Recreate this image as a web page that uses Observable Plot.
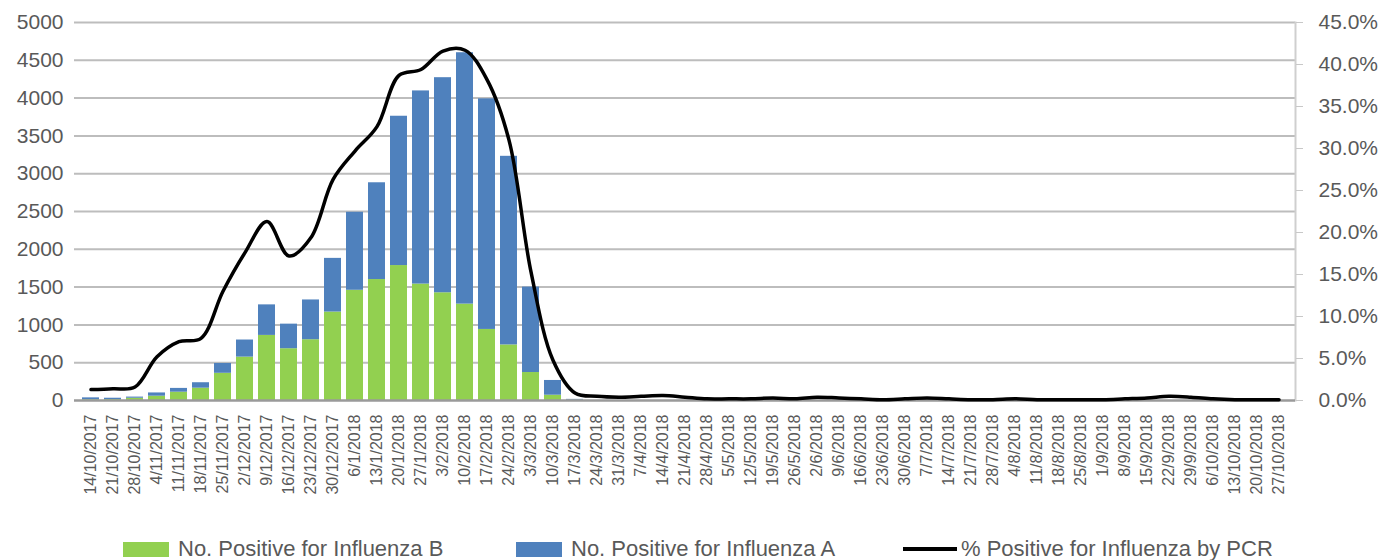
<!DOCTYPE html>
<html><head><meta charset="utf-8">
<script src="https://cdn.jsdelivr.net/npm/d3@7"></script>
<script src="https://cdn.jsdelivr.net/npm/@observablehq/plot@0.6"></script>
<style>
body{margin:0;background:#fff;font-family:"Liberation Sans",Arial,sans-serif;}
#wrap{position:relative;width:1385px;height:560px;overflow:hidden;}
#legend{position:absolute;left:0;top:538px;width:1385px;height:22px;font-size:22px;color:#595959;}
.item{position:absolute;top:0;display:flex;align-items:center;height:22px;white-space:nowrap;}
.sw{width:46px;height:15px;margin-right:9px;}
.ln{width:54px;height:4px;background:#000;margin-right:4px;}
</style></head><body>
<div id="wrap"><div id="chart"></div><div id="legend"></div></div>
<script>
const weeks = ["14/10/2017","21/10/2017","28/10/2017","4/11/2017","11/11/2017","18/11/2017","25/11/2017","2/12/2017","9/12/2017","16/12/2017","23/12/2017","30/12/2017",
"6/1/2018","13/1/2018","20/1/2018","27/1/2018","3/2/2018","10/2/2018","17/2/2018","24/2/2018","3/3/2018","10/3/2018","17/3/2018","24/3/2018","31/3/2018",
"7/4/2018","14/4/2018","21/4/2018","28/4/2018","5/5/2018","12/5/2018","19/5/2018","26/5/2018","2/6/2018","9/6/2018","16/6/2018","23/6/2018","30/6/2018",
"7/7/2018","14/7/2018","21/7/2018","28/7/2018","4/8/2018","11/8/2018","18/8/2018","25/8/2018","1/9/2018","8/9/2018","15/9/2018","22/9/2018","29/9/2018",
"6/10/2018","13/10/2018","20/10/2018","27/10/2018"];
const fluB = [10,12,30,57,110,163,360,574,861,685,804,1170,1458,1600,1785,1540,1425,1275,940,735,370,70,5,
0,0,0,0,0,0,0,0,0,0,0,0,0,0,0,0,0,0,0,0,0,0,0,0,0,0,0,0,0,0,0,0];
const fluA = [25,18,15,43,50,72,130,226,404,325,526,710,1032,1280,1975,2555,2845,3325,3050,2495,1130,195,10,
0,0,0,0,0,0,0,0,0,0,0,0,0,0,0,0,0,0,0,0,0,0,0,0,0,0,0,0,0,0,0,0];
const pctPositive = [1.3,1.4,1.6,5.2,7.0,7.4,13.0,17.6,21.3,17.2,19.4,26.3,29.7,32.6,38.7,39.4,41.6,41.7,38.2,31.0,15.3,4.8,0.9,
0.5,0.4,0.5,0.6,0.4,0.2,0.2,0.2,0.3,0.2,0.4,0.3,0.2,0.1,0.2,0.3,0.2,0.1,0.1,0.2,0.1,0.1,0.1,0.1,0.2,0.3,0.5,0.4,0.2,0.1,0.1,0.1];
const leftTicks = [0,500,1000,1500,2000,2500,3000,3500,4000,4500,5000];
const rightTicks = [0,5,10,15,20,25,30,35,40,45];
const seriesNames = ["No. Positive for Influenza B","No. Positive for Influenza A","% Positive for Influenza by PCR"];
const seriesColors = ["#92d050","#4f81bd","#000000"];

const leftMax = 5000, rightMax = 45;
const rows = weeks.flatMap((w,i)=>[
  {week:w, series:seriesNames[0], value:fluB[i]},
  {week:w, series:seriesNames[1], value:fluA[i]}
]);
const pctRows = weeks.map((w,i)=>({week:w, pct:pctPositive[i]}));

const chart = Plot.plot({
  width:1385, height:510,
  marginTop:22, marginBottom:110, marginLeft:74, marginRight:90,
  style:{fontFamily:'"Liberation Sans",Arial,sans-serif', color:"#595959", background:"#fff", overflow:"visible"},
  x:{type:"band", domain:weeks, paddingInner:0.22, paddingOuter:0.11, label:null},
  y:{domain:[0,leftMax], label:null},
  color:{domain:seriesNames.slice(0,2), range:seriesColors.slice(0,2)},
  marks:[
    Plot.gridY(leftTicks.slice(1), {stroke:"#bdbdbd", strokeOpacity:1, strokeWidth:2}),
    Plot.frame({anchor:"right", stroke:"#cfcfcf", strokeWidth:2}),
    Plot.barY(rows, {x:"week", y:"value", fill:"series"}),
    Plot.ruleY([0], {stroke:"#9a9a9a", strokeWidth:2.5}),
    Plot.line(pctRows, {x:"week", y:d=>d.pct/rightMax*leftMax, stroke:seriesColors[2], strokeWidth:3.5, curve:"catmull-rom"}),
    Plot.axisY(leftTicks, {anchor:"left", tickSize:0, tickPadding:11, fontSize:21, tickFormat:d=>String(d), label:null}),
    Plot.axisY(rightTicks.map(p=>p/rightMax*leftMax), {anchor:"right", tickSize:7, tickPadding:16, stroke:"#c8c8c8", fontSize:21, tickFormat:d=>(d/leftMax*rightMax).toFixed(1)+"%", label:null}),
    Plot.axisX({anchor:"bottom", tickSize:0, tickPadding:14, tickRotate:-90, fontSize:16, label:null})
  ]
});
document.getElementById("chart").appendChild(chart);

const legend = document.getElementById("legend");
const lx = [123, 516, 903];
seriesNames.forEach((name,i)=>{
  const it = document.createElement("div");
  it.className="item"; it.style.left = lx[i]+"px";
  const sw = document.createElement("div");
  if (i<2){ sw.className="sw"; sw.style.background=seriesColors[i]; }
  else { sw.className="ln"; sw.style.background=seriesColors[i]; }
  const tx = document.createElement("span"); tx.textContent = name;
  it.appendChild(sw); it.appendChild(tx); legend.appendChild(it);
});
</script>
</body></html>
